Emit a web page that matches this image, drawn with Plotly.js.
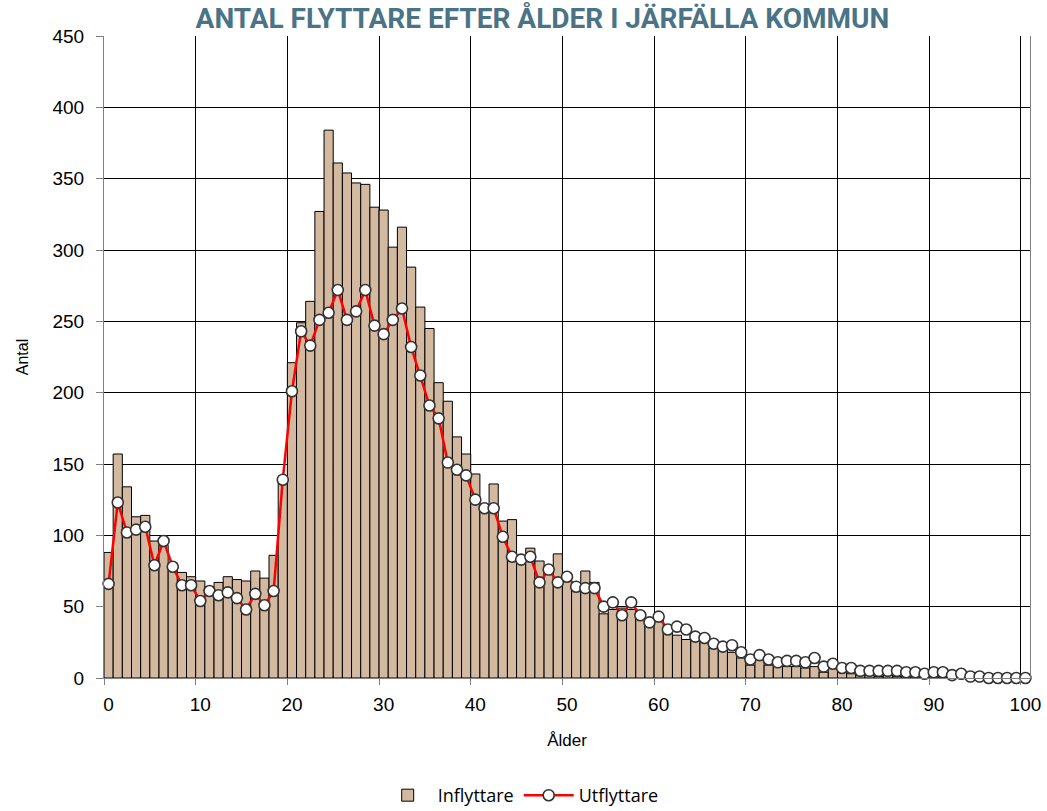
<!DOCTYPE html>
<html>
<head>
<meta charset="utf-8">
<script src="https://cdn.plot.ly/plotly-3.0.1.min.js"></script>
<style>html,body{margin:0;padding:0;background:#fff;}#chart{width:1047px;height:811px;}</style>
</head>
<body>
<div id="chart"></div>
<script>
const ages = Array.from({length: 101}, (_, i) => i);
const inflyttare = [
  88,157,134,113,114,96,93,77,74,71,
  68,64,67,71,69,68,75,70,86,137,
  221,249,264,327,384,361,354,347,346,330,
  328,302,316,288,260,245,207,194,169,157,
  143,120,136,110,111,84,91,82,78,87,
  68,64,75,67,45,48,49,48,46,42,
  44,32,30,27,26,25,21,20,18,14,
  9,13,9,8,8,8,7,8,4,7,
  4,3,2,2,1,2,1,1,1,0,
  1,0,1,0,0,0,0,0,0,0,
  0
];
const utflyttare = [
  66,123,102,104,106,79,96,78,65,65,
  54,61,58,60,56,48,59,51,61,139,
  201,243,233,251,256,272,251,257,272,247,
  241,251,259,232,212,191,182,151,146,142,
  125,119,119,99,85,83,85,67,76,67,
  71,64,63,63,50,53,44,53,44,39,
  43,34,36,34,29,28,24,22,23,18,
  13,16,13,11,12,12,11,14,8,10,
  7,7,5,5,5,5,5,4,4,3,
  4,4,2,3,1,1,0,0,0,0,
  0
];
const titleText = 'ANTAL FLYTTARE EFTER ÅLDER I JÄRFÄLLA KOMMUN';

const traces = [
  {
    type: 'bar', name: 'Inflyttare', x: ages, y: inflyttare,
    marker: {color: '#D3B9A0', line: {color: '#000000', width: 1}},
    hoverinfo: 'x+y'
  },
  {
    type: 'scatter', mode: 'lines+markers', name: 'Utflyttare', x: ages, y: utflyttare,
    line: {color: '#FF0000', width: 2.5},
    marker: {symbol: 'circle', size: 11, color: '#FFFFFF', line: {color: '#333333', width: 1.6}},
    cliponaxis: false
  }
];

const layout = {
  width: 1047, height: 811,
  paper_bgcolor: '#FFFFFF', plot_bgcolor: '#FFFFFF',
  margin: {l: 104, r: 17, t: 36, b: 133, autoexpand: false},
  bargap: 0,
  showlegend: true,
  font: {family: '"Liberation Sans", Arial, sans-serif', color: '#000000', size: 19},
  title: {
    text: titleText,
    font: {family: 'Roboto, sans-serif', size: 28, color: '#4A7486', weight: 700},
    xref: 'paper', x: 0.4735, xanchor: 'center',
    yref: 'container', y: 0.977, yanchor: 'middle',
    automargin: false
  },
  xaxis: {
    type: 'category',
    range: [-0.5, 100.5], autorange: false,
    tickmode: 'linear', tick0: 0, dtick: 10,
    tickson: 'boundaries',
    tickangle: 0,
    ticks: 'outside', ticklen: 6, tickcolor: '#808080',
    showgrid: true, gridcolor: '#000000', gridwidth: 1,
    showline: true, linecolor: '#808080', linewidth: 1,
    zeroline: false, automargin: false,
    tickfont: {size: 19},
    ticklabelstandoff: 9,
    title: {text: 'Ålder', font: {size: 17}, standoff: 20}
  },
  yaxis: {
    range: [0, 450], autorange: false, tickmode: 'linear', tick0: 0, dtick: 50,
    ticks: 'outside', ticklen: 7, tickcolor: '#808080',
    showgrid: true, gridcolor: '#000000', gridwidth: 1,
    showline: true, linecolor: '#808080', linewidth: 1, mirror: true,
    zeroline: false, automargin: false,
    tickfont: {size: 19},
    ticklabelstandoff: 8,
    title: {text: 'Antal', font: {size: 16}, standoff: 19}
  },
  legend: {
    orientation: 'h', xref: 'paper', x: 0.45, xanchor: 'center',
    yref: 'paper', y: -0.183, yanchor: 'middle',
    font: {family: '"Open Sans", sans-serif', size: 18},
    itemwidth: 50, bgcolor: 'rgba(0,0,0,0)', borderwidth: 0
  }
};

Plotly.newPlot('chart', traces, layout, {displayModeBar: false, staticPlot: true});
</script>
</body>
</html>
